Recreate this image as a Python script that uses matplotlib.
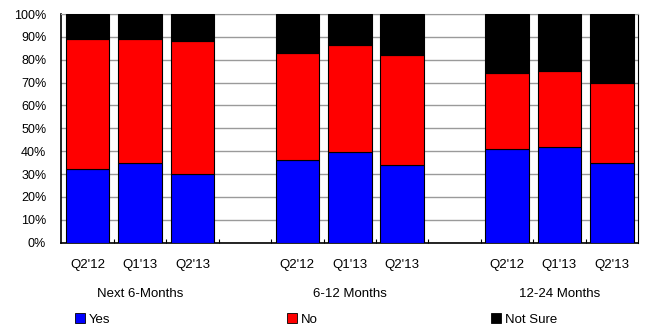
import matplotlib
matplotlib.use("Agg")
import matplotlib.pyplot as plt
from matplotlib.patches import Patch
from matplotlib.ticker import MultipleLocator, PercentFormatter
import numpy as np

plt.rcParams['font.family'] = ['Liberation Sans', 'DejaVu Sans']

groups = ["Next 6-Months", "6-12 Months", "12-24 Months"]
quarters = ["Q2'12", "Q1'13", "Q2'13"]
yes = [32, 35, 30, 36, 39.5, 34, 41, 42, 35]
no = [57, 54, 58, 47, 47, 48, 33, 33, 35]
not_sure = [11, 11, 12, 17, 13.5, 18, 26, 25, 30]

series = [("Yes", yes, "#0000ff"), ("No", no, "#ff0000"), ("Not Sure", not_sure, "#000000")]

fig = plt.figure(figsize=(6.48, 3.27), dpi=100)
ax = fig.add_axes([0.0949, 0.258, 0.8897, 0.699])

# slot positions: three bars per group with an empty slot between groups
xs = []
for g in range(len(groups)):
    for q in range(len(quarters)):
        xs.append(g * 4 + q)
xs = np.array(xs)

bottom = np.zeros(len(xs))
for name, vals, color in series:
    vals = np.array(vals, dtype=float)
    ax.bar(xs, vals, width=0.83, bottom=bottom, color=color,
           edgecolor="black", linewidth=0.8, zorder=3)
    bottom += vals

ax.set_xlim(-0.5, 10.5)
ax.set_ylim(0, 100)
ax.yaxis.set_major_locator(MultipleLocator(10))
ax.yaxis.set_major_formatter(PercentFormatter(decimals=0))
ax.grid(axis="y", color="#9a9a9a", linewidth=1.0, zorder=0)
ax.tick_params(axis="y", length=0, labelsize=9, pad=11)

# small separator ticks along the bottom between slots
ax.set_xticks(np.arange(0.5, 10.5, 1.0))
ax.set_xticklabels([])
ax.tick_params(axis="x", direction="in", length=3, width=0.8)

for side in ["left", "bottom"]:
    ax.spines[side].set_linewidth(1.2)
ax.spines["top"].set_color("#9a9a9a")
ax.spines["right"].set_color("black")

trans = ax.get_xaxis_transform()
for i, x in enumerate(xs):
    ax.text(x, -0.1, quarters[i % 3], transform=trans, ha="center",
            va="center", fontsize=9.5)
for g, label in enumerate(groups):
    ax.text(g * 4 + 1, -0.224, label, transform=trans, ha="center",
            va="center", fontsize=9.5)

legend_x = [0.1157, 0.4429, 0.7577]
for (name, vals, color), lx in zip(series, legend_x):
    fig.legend(handles=[Patch(facecolor=color, edgecolor="black", linewidth=0.6)],
               labels=[name], loc="center left", bbox_to_anchor=(lx, 0.023),
               frameon=False, fontsize=9.5, handlelength=0.75, handleheight=0.75,
               handletextpad=0.3, borderaxespad=0, borderpad=0)

fig.savefig("out.png", dpi=100)
